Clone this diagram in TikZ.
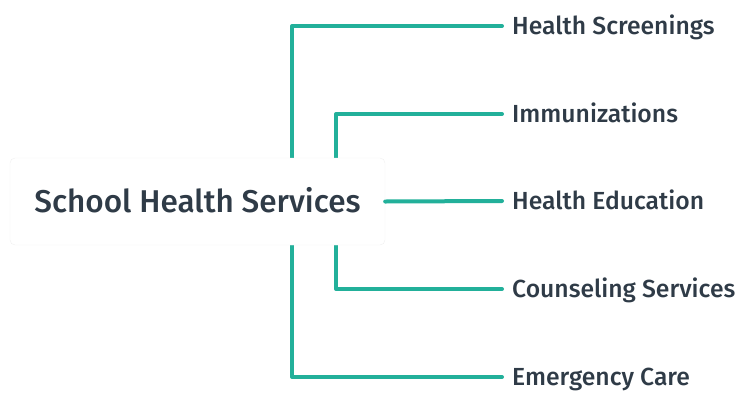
\documentclass[tikz,border=0pt]{standalone}
\usepackage{fontspec}
\setmainfont{Fira Sans}[UprightFont = * Medium]
\usepackage{tikz}
\usetikzlibrary{positioning}
\definecolor{branchteal}{HTML}{22B09A}
\definecolor{inkslate}{HTML}{2F3B47}

\begin{document}
\begin{tikzpicture}[x=1pt, y=-1pt,
        rootbox/.style = {draw = black!6, fill = white, rounded corners = 5pt,
                minimum width = 375pt, minimum height = 87pt, text = inkslate,
                text height = 21.5pt, text depth = 0pt,
                font = \fontsize{31.5}{36}\selectfont},
        leaf/.style = {anchor = west, inner xsep = 10pt, inner ysep = 0pt,
                text height = 17pt, text depth = 0pt,
                text = inkslate, font = \fontsize{24.7}{29}\selectfont},
        link/.style = {draw = branchteal, line width = 4pt, line cap = round,
                line join = round}]
        \useasboundingbox (0,0) rectangle (743,407);
        \coordinate (outer) at (292,201);
        \coordinate (inner) at (336,201);
        \node[leaf] (screen) at (502,26) {Health Screenings};
        \node[leaf] (immun) at (502,114) {Immunizations};
        \node[leaf] (edu) at (502,201) {Health Education};
        \node[leaf] (couns) at (502,289) {Counseling Services};
        \node[leaf] (emerg) at (502,377) {Emergency Care};
        \draw[link] (outer) |- (screen.west);
        \draw[link] (outer) |- (emerg.west);
        \draw[link] (inner) |- (immun.west);
        \draw[link] (inner) |- (couns.west);
        \node[rootbox] (root) at (197.5,201.5) {School Health Services};
        \draw[link] (root.east) -- (edu.west);
\end{tikzpicture}
\end{document}
